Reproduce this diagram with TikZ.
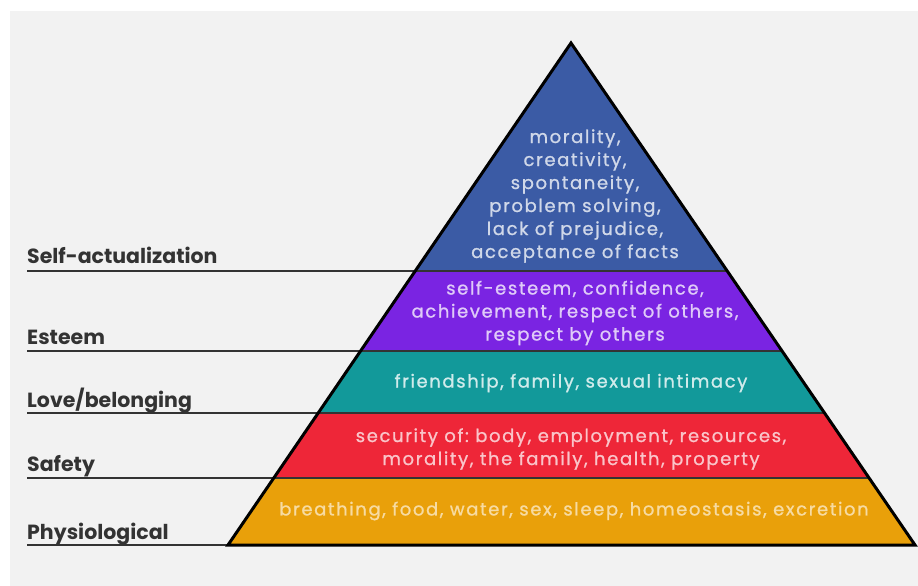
\documentclass[tikz,border=0pt]{standalone}
\usepackage{fontspec}
\setmainfont{Poppins}
\usetikzlibrary{calc}
\frenchspacing
\definecolor{selfblue}{HTML}{3B5BA5}
\definecolor{esteempurple}{HTML}{7A24E2}
\definecolor{loveteal}{HTML}{12999A}
\definecolor{safetyred}{HTML}{EE2638}
\definecolor{physioorange}{HTML}{E9A00A}
\definecolor{panelgray}{HTML}{F2F2F2}
\definecolor{labelgray}{HTML}{333333}
\tikzset{
	levellabel/.style={anchor=base west, inner sep=0pt, text=labelgray, font=\fontsize{20.5}{24}\selectfont\bfseries},
	tiertext/.style={align=center, inner sep=0pt, font=\fontsize{18}{23}\selectfont\addfontfeatures{LetterSpace=9,FakeBold=1}},
	levelline/.style={draw=labelgray, line width=2.5pt},
}

\begin{document}
\begin{tikzpicture}[x=1pt,y=-1pt]
			%%%%% START %%%%%
			\useasboundingbox (0,0) rectangle (918,586);
			\fill[white] (0,0) rectangle (918,586);
			\fill[panelgray] (10,11) rectangle (918,586);
			
			\coordinate (apex) at (571,43);
			\coordinate (bl) at (228,545);
			\coordinate (br) at (915,545);
			\coordinate (edge) at (27,0);
			
			\foreach \n/\t in {a/0.4542, b/0.6135, c/0.7371, d/0.8665}{
				\coordinate (l\n) at ($(apex)!\t!(bl)$);
				\coordinate (r\n) at ($(apex)!\t!(br)$);
			}
			
			\fill[selfblue] (apex) -- (ra) -- (la) -- cycle;
			\fill[esteempurple] (la) -- (ra) -- (rb) -- (lb) -- cycle;
			\fill[loveteal] (lb) -- (rb) -- (rc) -- (lc) -- cycle;
			\fill[safetyred] (lc) -- (rc) -- (rd) -- (ld) -- cycle;
			\fill[physioorange] (ld) -- (rd) -- (br) -- (bl) -- cycle;
			
			\foreach \n in {a,b,c,d}
				\draw[levelline] (edge |- l\n) -- (r\n);
			\draw[levelline] (edge |- bl) -- (bl);
			\draw[line width=3pt] (apex) -- (br) -- (bl) -- cycle;
			
			\node[levellabel] (selfact) at ($(edge |- la)+(0,-8)$) {Self-actualization};
			\node[levellabel] (esteem) at ($(edge |- lb)+(0,-6)$) {Esteem};
			\node[levellabel] (love) at ($(edge |- lc)+(0,-6)$) {Love/belonging};
			\node[levellabel] (safety) at ($(edge |- ld)+(0,-6)$) {Safety};
			\node[levellabel] (physio) at ($(edge |- bl)+(0,-6)$) {Physiological};
			
			\node[tiertext, text=selfblue!24!white] (selftext) at (575,196) {morality,\\creativity,\\spontaneity,\\problem solving,\\lack of prejudice,\\acceptance of facts};
			\node[tiertext, text=esteempurple!24!white] (esteemtext) at (575,313) {self-esteem, confidence,\\achievement, respect of others,\\respect by others};
			\node[tiertext, text=loveteal!20!white] (lovetext) at (571,383) {friendship, family, sexual intimacy};
			\node[tiertext, text=safetyred!27!white] (safetytext) at (571,449) {security of: body, employment, resources,\\morality, the family, health, property};
			\node[tiertext, text=physioorange!38!white] (physiotext) at (574,511) {breathing, food, water, sex, sleep, homeostasis, excretion};
			%%%%% END %%%%%
\end{tikzpicture}
\end{document}
